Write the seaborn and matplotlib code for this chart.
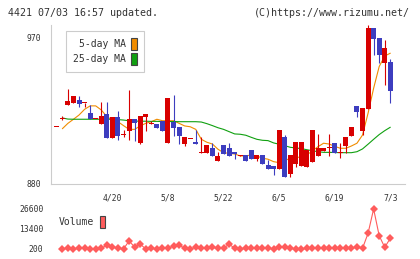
import numpy as np
import pandas as pd
import matplotlib
matplotlib.use("Agg")
import matplotlib.pyplot as plt
from matplotlib.patches import Patch
import seaborn as sns

# daily prices (61 sessions, 4/7 .. 7/3)
opens = [915, 920, 928.5, 929.5, 931.5, 929.5, 923.7, 919.7, 916.6, 923, 908.4,
         921.3, 910, 912.7, 919.7, 905.3, 921.3, 916.8, 916.8, 918.6, 905.3,
         918.2, 914.8, 904.5, 907.4, 906, 899.2, 899.2, 901.9, 894.1, 903.9,
         901.9, 899.8, 897.3, 897.8, 900.9, 895.3, 897.8, 891.5, 891, 889.2,
         908.6, 886.1, 892.3, 891, 890.6, 893.7, 897.4, 900.4, 901.9, 905,
         899.2, 903.3, 909.4, 927.9, 912.7, 926.2, 975.7, 969.6, 954.4, 954.8]
highs = [915, 921.5, 938, 934, 934, 929.5, 928.5, 919.7, 930, 930, 921.3,
         924.8, 913, 937.7, 919.7, 921.7, 923, 918.6, 916.8, 918.6, 932.6,
         934.6, 914.8, 908.6, 907.4, 913, 909, 903.9, 905, 899.8, 903.9,
         905.3, 899.8, 897.6, 897.8, 900.9, 897.8, 897.8, 894.7, 891, 913.1,
         910, 897.8, 905.8, 905.8, 900.9, 913.1, 910.7, 901.9, 910.7, 905,
         905, 909, 915.2, 927.9, 926.6, 977.5, 975.7, 969.6, 968.3, 956.5]
lows = [915, 919.5, 928.5, 929.5, 927.4, 927.4, 919.7, 919.7, 916.6, 908.4, 908.4,
        907, 908.6, 907, 906.4, 904.8, 912.7, 916.8, 914.5, 912.7, 905.3,
        909.6, 904.5, 903.5, 907.4, 904.7, 899.2, 899.2, 897.2, 894.1, 898.4,
        897.2, 895.3, 897.3, 894.1, 895.3, 894.1, 892.3, 889.5, 885.5, 889.2,
        884.5, 884.5, 890.6, 891, 890.6, 893.7, 897.4, 900.4, 897.2, 898.8,
        895.8, 899.2, 909.4, 921.3, 910, 926.2, 959.3, 954.5, 940.6, 929.5]
closes = [915, 920, 931, 934, 929, 929.5, 919.7, 919.7, 921.7, 908.4, 921.3,
          909.4, 910, 919.7, 917.6, 921.7, 923, 916.8, 914.5, 912.7, 932.6,
          914.5, 909.6, 908.6, 907.4, 904.7, 899.8, 903.9, 897.2, 897.2, 898.4,
          897.2, 898.4, 897.6, 894.1, 895.3, 897.8, 892.3, 889.5, 889, 913.1,
          884.5, 897.8, 905.8, 905.8, 900.9, 913.1, 901.9, 901.9, 901.9, 898.8,
          899.2, 909, 915.2, 924.4, 926.6, 975.7, 969.1, 959.3, 963.4, 937.2]

# moving averages and volume as shown (from the 2nd session on)
ma5 = [913.9, 917.2, 919.7, 922.3, 925.8, 927.9, 927.9, 925.4, 921.3, 919.3,
       918.2, 915.8, 913.5, 913.5, 915.6, 917.2, 918.2, 919.7, 918.8, 918.8,
       918.8, 917.2, 915.6, 915.1, 913.5, 907.4, 905.6, 904.5, 901.3, 899.2,
       898.8, 898.4, 897.2, 897.2, 897.8, 897.2, 895.8, 895.2, 893.7, 893.1,
       894.3, 895.8, 896.4, 896.4, 897.8, 900.4, 902.9, 905, 904.5, 903.1,
       901.9, 901.9, 903.3, 905, 910, 923.4, 938.7, 952, 958.5, 960.2]
ma25 = [920.5, 919.8, 919.7, 919.7, 919.7, 919.7, 919.7, 919.7, 919.7, 919.7,
        919.5, 919.2, 918.8, 918.6, 918.5, 918.5, 918.4, 918.4, 918.3, 918.3,
        918.3, 918.2, 918.2, 918.2, 918.2, 918, 917, 915.8, 914.5, 913.5,
        912.1, 910.7, 910.5, 909.9, 908.6, 907.4, 906.8, 906.6, 905.2, 904.4,
        903.5, 902.5, 902.1, 901.7, 901, 900.4, 899.8, 899.4, 899.4, 899.3,
        899.2, 899.2, 899.2, 899.8, 901.5, 904.4, 907.4, 910.3, 912.7, 914.8]
volume = [200, 600, 200, 600, 600, 200, 200, 600, 2800, 1500,
          600, 200, 5500, 1500, 3500, 200, 600, 200, 600, 600,
          2200, 2800, 600, 200, 1300, 1100, 600, 1300, 600, 600,
          3500, 600, 200, 600, 600, 600, 1100, 600, 200, 1300,
          1700, 600, 200, 200, 600, 600, 600, 600, 600, 600,
          1100, 600, 600, 1500, 600, 10560, 26600, 9000, 1300, 7260]

date_labels = ["4/20", "5/8", "5/22", "6/5", "6/19", "7/3"]
date_pos = [10, 20, 30, 40, 50, 60]

UP, DOWN = "#d80000", "#3d3dbf"
ORANGE, GREEN, VOLC = "#f08c00", "#10a010", "#ff5c5c"
GRID, TXT = "#cccccc", "#333333"

sns.set_style("white")
plt.rcParams["font.family"] = ["DejaVu Sans Mono", "DejaVu Sans"]

df = pd.DataFrame({"open": opens, "high": highs, "low": lows, "close": closes})
df["day"] = np.arange(len(df))
ind = pd.DataFrame({"day": df["day"][1:].values, "ma5": ma5, "ma25": ma25, "volume": volume})

fig = plt.figure(figsize=(4.2, 2.59), dpi=100)
ax = fig.add_axes([0.1207, 0.2896, 0.8443, 0.6139])
axv = fig.add_axes([0.1207, 0.0232, 0.8443, 0.1853])

# moving averages under the candles
sns.lineplot(data=ind, x="day", y="ma5", color=ORANGE, lw=0.8, ax=ax, zorder=1)
sns.lineplot(data=ind, x="day", y="ma25", color=GREEN, lw=0.8, ax=ax, zorder=1)

up = df["close"] >= df["open"]
cols = np.where(up, UP, DOWN)
body_lo = df[["open", "close"]].min(axis=1)
body_h = (df["close"] - df["open"]).abs().clip(lower=0.6)
ax.vlines(df["day"], df["low"], df["high"], colors=cols, lw=0.8, zorder=2)
ax.bar(df["day"], body_h, bottom=body_lo, width=0.9, color=cols, lw=0, zorder=3)

ax.set_xlim(-1.1, 62.7)
ax.set_ylim(880, 977.5)
ax.set_yticks([880, 970])
ax.set_xticks(date_pos, date_labels)
ax.set_xticks(np.linspace(-1.1, 62.67, 12), minor=True)
ax.tick_params(axis="x", which="major", length=0, pad=6.5, labelsize=5.8, labelcolor=TXT)
ax.tick_params(axis="x", which="minor", length=6, direction="inout", color=GRID, width=0.8)
ax.tick_params(axis="y", length=6, direction="inout", color=GRID, width=0.8,
               pad=4, labelsize=5.8, labelcolor=TXT)
ax.set_xlabel("")
ax.set_ylabel("")
for s in ["top", "right"]:
    ax.spines[s].set_visible(False)
for s in ["left", "bottom"]:
    ax.spines[s].set_color(GRID)
    ax.spines[s].set_linewidth(0.8)

handles = [Patch(facecolor=ORANGE, edgecolor="#444444", lw=0.8),
           Patch(facecolor=GREEN, edgecolor="#444444", lw=0.8)]
leg = ax.legend(handles, ["5-day MA", "25-day MA"], markerfirst=False,
                loc="upper left", bbox_to_anchor=(0.0423, 0.964), borderaxespad=0,
                fontsize=7.0, handlelength=0.57, handleheight=1.5,
                handletextpad=0.55, labelspacing=0.3, borderpad=0.75,
                fancybox=False, edgecolor=GRID, framealpha=1)
leg.get_frame().set_linewidth(0.8)
for t in leg.get_texts():
    t.set_color(TXT)

# volume
sns.lineplot(data=ind, x="day", y="volume", color=VOLC, lw=0.8, marker="D",
             markersize=4.4, markeredgewidth=0, ax=axv)
axv.set_xlim(-1.1, 62.7)
axv.set_ylim(-2440, 29240)
axv.set_yticks([200, 13400, 26600])
axv.set_xticks([])
axv.tick_params(axis="y", length=0, pad=5.3, labelsize=5.8, labelcolor=TXT)
axv.set_xlabel("")
axv.set_ylabel("")
for s in axv.spines.values():
    s.set_visible(False)
vleg = axv.legend([Patch(facecolor=VOLC, edgecolor="#444444", lw=0.8)], ["Volume"],
                  markerfirst=False, loc="center left", bbox_to_anchor=(0.023, 0.64),
                  borderaxespad=0, fontsize=7.0, handlelength=0.57, handleheight=1.55,
                  handletextpad=0.6, frameon=False, borderpad=0)
for t in vleg.get_texts():
    t.set_color(TXT)

fig.text(8 / 420, 1 - 12.7 / 259, "4421 07/03 16:57 updated.", fontsize=7.2,
         color=TXT, va="center", ha="left")
fig.text(410 / 420, 1 - 12.7 / 259, "(C)https://www.rizumu.net/", fontsize=7.2,
         color=TXT, va="center", ha="right")

fig.savefig("out.png", dpi=100)
